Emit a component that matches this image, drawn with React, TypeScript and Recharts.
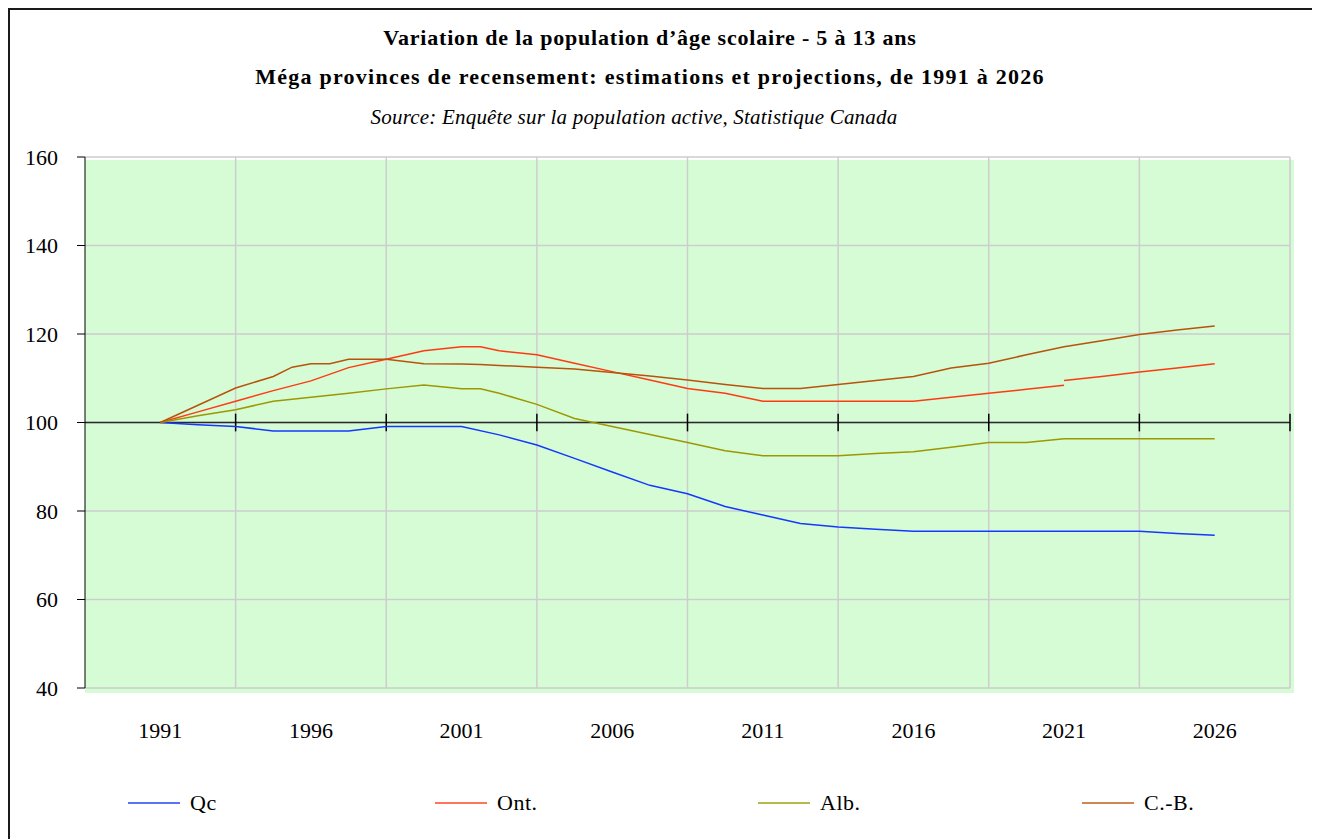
import React from 'react';
import { LineChart, Line, XAxis, YAxis, CartesianGrid, ReferenceLine } from 'recharts';

// Category slots along the horizontal axis (64 slots, points every slot; labels every 8)
const slots = [4, 6, 8, 10, 11, 12, 13, 14, 16, 18, 20, 21, 22, 24, 26, 28, 30, 32, 34, 36, 38, 40, 42, 44, 46, 48, 50, 52, 54, 56, 58, 60];
const labelSlots = [4, 12, 20, 28, 36, 44, 52, 60];
const yearLabels = ['1991', '1996', '2001', '2006', '2011', '2016', '2021', '2026'];
const gridSlots = [8, 16, 24, 32, 40, 48, 56, 64];
const yTicks = [40, 60, 80, 100, 120, 140, 160];

const qc = [100, 99.5, 99.1, 98.1, null, 98.1, null, 98.1, 99.1, 99.1, 99.1, null, 97.2, 94.9, 91.9, 88.8, 85.8, 83.9, 81.0, 79.1, 77.2, 76.4, 75.9, 75.4, 75.4, 75.4, 75.4, 75.4, 75.4, 75.4, 74.9, 74.5];
const ont = [100, 102.4, 104.8, 107.2, null, 109.4, null, 112.4, 114.3, 116.2, 117.1, 117.1, 116.2, 115.3, 113.4, 111.5, 109.6, 107.7, 106.6, 104.8, 104.8, 104.8, 104.8, 104.8, 105.7, 106.6, 107.5, 108.4, null, null, null, null];
const ontB = [null, null, null, null, null, null, null, null, null, null, null, null, null, null, null, null, null, null, null, null, null, null, null, null, null, null, null, 109.5, 110.4, 111.4, 112.3, 113.3];
const alb = [100, 101.5, 102.9, 104.8, null, 105.7, null, 106.6, 107.6, 108.5, 107.6, 107.6, 106.6, 104.1, 100.9, 99.1, 97.3, 95.5, 93.6, 92.5, 92.5, 92.5, 93.0, 93.4, 94.4, 95.5, 95.5, 96.3, 96.3, 96.3, 96.3, 96.3];
const cb = [100, 103.9, 107.8, 110.4, 112.5, 113.3, 113.3, 114.3, 114.3, 113.3, 113.2, 113.1, 112.9, 112.5, 112.1, 111.3, 110.5, 109.6, 108.6, 107.7, 107.7, 108.6, 109.5, 110.4, 112.3, 113.4, 115.3, 117.1, 118.5, 119.9, 120.9, 121.8];

const seriesNames = ['Qc', 'Ont.', 'Alb.', 'C.-B.'];
const seriesColors = ['#1438FF', '#FF3A12', '#9C9800', '#B8520C'];

const data = slots.map((s, i) => ({ s, qc: qc[i], ont: ont[i], ontB: ontB[i], alb: alb[i], cb: cb[i] }));

const FONT = "'Liberation Serif', 'DejaVu Serif', serif";

const titleStyle: React.CSSProperties = {
  position: 'absolute', left: -13, width: 1306, textAlign: 'center', fontFamily: FONT, fontSize: 22, color: '#000', lineHeight: '24px', whiteSpace: 'nowrap',
};

const legendLeft = [118, 425, 748, 1072];

export default function App() {
  return (
    <div style={{ position: 'relative', width: 1306, height: 840, border: '2px solid #1a1a1a', background: '#fff', fontFamily: FONT }}>
      <div style={{ ...titleStyle, top: 16, fontWeight: 'bold', letterSpacing: 0.8 }}>Variation de la population d’âge scolaire - 5 à 13 ans</div>
      <div style={{ ...titleStyle, top: 55, fontWeight: 'bold', letterSpacing: 1.25 }}>Méga provinces de recensement: estimations et projections, de 1991 à 2026</div>
      <div style={{ ...titleStyle, top: 95, fontSize: 21, fontStyle: 'italic', left: -29, letterSpacing: 0.2 }}>Source: Enquête sur la population active, Statistique Canada</div>
      <div style={{ position: 'absolute', left: 75, top: 150, width: 1209, height: 533, background: '#D5FCD5' }} />
      <div style={{ position: 'absolute', left: 0, top: 0 }}>
        <LineChart width={1306} height={830} data={data} margin={{ top: 147, right: 26, bottom: 122, left: 15 }}>
          <CartesianGrid vertical={false} stroke="#CDCDCD" strokeWidth={1.5} />
          <XAxis
            type="number"
            dataKey="s"
            domain={[0, 64]}
            ticks={labelSlots}
            tickFormatter={(v: number) => yearLabels[labelSlots.indexOf(v)] ?? ''}
            axisLine={false}
            tickLine={false}
            tickSize={0}
            tickMargin={34}
            height={30}
            interval={0}
            tick={{ fill: '#000', fontSize: 22, fontFamily: FONT }}
          />
          <YAxis
            type="number"
            domain={[40, 160]}
            ticks={yTicks}
            interval={0}
            width={60}
            axisLine={{ stroke: '#000', strokeWidth: 1 }}
            tickLine={{ stroke: '#000' }}
            tickSize={8}
            tickMargin={19}
            tick={{ fill: '#000', fontSize: 22, fontFamily: FONT }}
          />
          {gridSlots.map((g) => (
            <ReferenceLine key={'g' + g} x={g} stroke="#CDCDCD" strokeWidth={1.5} />
          ))}
          <ReferenceLine y={100} stroke="#2a2a2a" strokeWidth={1.5} />
          {gridSlots.map((g) => (
            <ReferenceLine key={'t' + g} segment={[{ x: g, y: 98 }, { x: g, y: 102 }]} stroke="#000" strokeWidth={1.5} />
          ))}
          <Line dataKey="qc" stroke={seriesColors[0]} strokeWidth={1.5} dot={false} connectNulls isAnimationActive={false} />
          <Line dataKey="ont" stroke={seriesColors[1]} strokeWidth={1.5} dot={false} connectNulls isAnimationActive={false} />
          <Line dataKey="ontB" stroke={seriesColors[1]} strokeWidth={1.5} dot={false} connectNulls isAnimationActive={false} legendType="none" />
          <Line dataKey="alb" stroke={seriesColors[2]} strokeWidth={1.5} dot={false} connectNulls isAnimationActive={false} />
          <Line dataKey="cb" stroke={seriesColors[3]} strokeWidth={1.5} dot={false} connectNulls isAnimationActive={false} />
        </LineChart>
      </div>
      {seriesNames.map((n, i) => (
        <div key={n} style={{ position: 'absolute', left: legendLeft[i], top: 780, height: 26, display: 'flex', alignItems: 'center' }}>
          <div style={{ width: 52, height: 2, background: seriesColors[i], opacity: 0.7 }} />
          <span style={{ marginLeft: 10, fontSize: 22, color: '#000', letterSpacing: 0.5 }}>{n}</span>
        </div>
      ))}
    </div>
  );
}
